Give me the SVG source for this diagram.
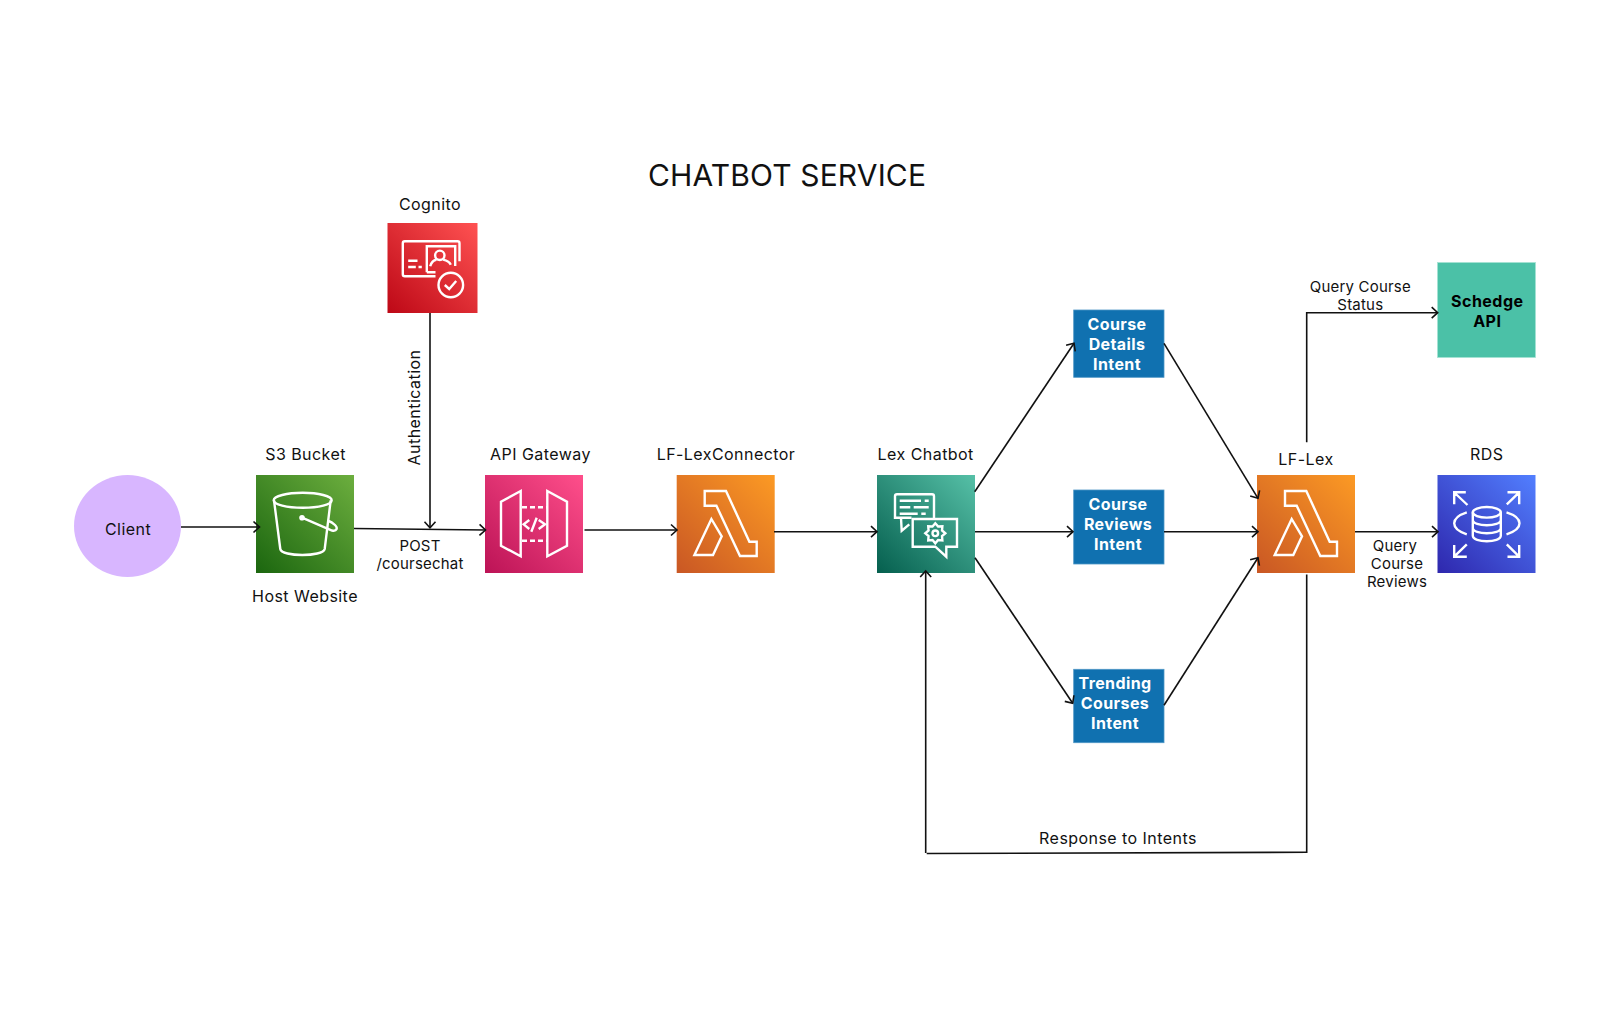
<svg xmlns="http://www.w3.org/2000/svg" width="1620" height="1033" viewBox="0 0 1620 1033">
<style>
text{font-family:Inter,"Liberation Sans",sans-serif;fill:#111;font-size:16px;letter-spacing:.45px;text-anchor:middle}
.title{font-size:30px;letter-spacing:.15px}
.e{font-size:15px;letter-spacing:.2px}
.w{fill:#fff;font-weight:700;letter-spacing:.4px}
.b{fill:#000;font-weight:700;letter-spacing:.5px}
.c{fill:none;stroke:#111;stroke-width:1.6;marker-end:url(#a)}
.p{fill:none;stroke:#111;stroke-width:1.6}
.i{fill:none;stroke:#fff;stroke-width:2.4;stroke-linejoin:miter}
.box{fill:#1071b0;stroke:#4d96c6;stroke-width:.8}
</style>
<defs>
<marker id="a" markerUnits="userSpaceOnUse" markerWidth="16" markerHeight="16" refX="10" refY="8" orient="auto" overflow="visible"><path d="M4,2.5 L10,8 L4,13.5" fill="none" stroke="#111" stroke-width="1.6"/></marker>
<linearGradient id="gs" x1="0" y1="1" x2="1" y2="0"><stop offset="0" stop-color="#1b660f"/><stop offset="1" stop-color="#6cae3e"/></linearGradient>
<linearGradient id="gp" x1="0" y1="1" x2="1" y2="0"><stop offset="0" stop-color="#bc1356"/><stop offset="1" stop-color="#ff4f8b"/></linearGradient>
<linearGradient id="gr" x1="0" y1="1" x2="1" y2="0"><stop offset="0" stop-color="#bd0816"/><stop offset="1" stop-color="#ff5252"/></linearGradient>
<linearGradient id="go" x1="0" y1="1" x2="1" y2="0"><stop offset="0" stop-color="#c95724"/><stop offset="1" stop-color="#fc9a24"/></linearGradient>
<linearGradient id="gt" x1="0" y1="1" x2="1" y2="0"><stop offset="0" stop-color="#055f4e"/><stop offset="1" stop-color="#56c0a7"/></linearGradient>
<linearGradient id="gb" x1="0" y1="1" x2="1" y2="0"><stop offset="0" stop-color="#2e27ad"/><stop offset="1" stop-color="#527fff"/></linearGradient>
<g id="lambda"><rect width="98" height="98" fill="url(#go)"/><path class="i" d="M28,16H49.3L72.7,66.7H80V81H63.3L39.7,30.7H28Z"/><path class="i" d="M34.7,44L45,61.3L36.3,80H17.7Z"/></g>
</defs>
<rect width="1620" height="1033" fill="#fff"/>
<text class="title" x="787" y="186">CHATBOT SERVICE</text>

<g id="client"><ellipse cx="127.5" cy="526" rx="53.5" ry="51" fill="#d8b6ff"/><text x="128" y="534.5">Client</text></g>

<g id="s3"><text x="305.6" y="459.5">S3 Bucket</text><text x="305" y="602">Host Website</text>
<g transform="translate(256,475)"><rect width="98" height="98" fill="url(#gs)"/>
<ellipse class="i" cx="46.7" cy="25.3" rx="29" ry="7.5"/>
<path class="i" d="M18,25.3L24.3,74C25.5,82 67,82 68.7,74L74.7,25.3"/>
<circle cx="46" cy="42.7" r="2.8" fill="#fff"/>
<path class="i" d="M46,42.7L76,55.5C81,56.5 82,53 79,50C76.5,47.5 73,46 71.5,45.5"/></g></g>

<g id="cognito"><text x="430" y="210">Cognito</text>
<g transform="translate(387.5,223)"><rect width="90" height="90" fill="url(#gr)"/>
<path class="i" d="M48,53.3H17.3Q15.3,53.3 15.3,51.3V20.3Q15.3,18.3 17.3,18.3H70Q72,18.3 72,20.3V38.3"/>
<path class="i" d="M39.3,49.3V23.3H67.7V43M39.3,49.3H48"/>
<path class="i" d="M20.7,37.7H30M20.7,44H28.3M31,44H34.3"/>
<circle class="i" cx="52.3" cy="32.3" r="4.7"/>
<path class="i" d="M42.7,43.3Q44.3,37.3 49,36.7M55.7,36.7Q61.7,38.3 63.3,41.7"/>
<circle class="i" cx="63.3" cy="62" r="12.3"/>
<path class="i" d="M57.3,62L61.7,66L68.7,58"/></g></g>

<g id="api-gateway"><text x="540.5" y="459.5">API Gateway</text>
<g transform="translate(485,475)"><rect width="98" height="98" fill="url(#gp)"/>
<path class="i" d="M35.7,16L16,26.7V70.7L35.7,81.3Z"/>
<path class="i" d="M62.3,16L82,26.7V70.7L62.3,81.3Z"/>
<path class="i" stroke-dasharray="5 3" d="M37,32.3H62M37,65.7H62"/>
<path class="i" d="M44.3,45L38.7,49.3L44.3,54M53.7,45L60,49.3L53.7,54M51.7,42.7L46.3,56.7"/></g></g>

<g id="lf-lexconnector"><text x="726" y="459.5">LF-LexConnector</text><use href="#lambda" x="676.7" y="475"/></g>

<g id="lex-chatbot"><text x="925.7" y="459.5">Lex Chatbot</text>
<g transform="translate(877,475)"><rect width="98" height="98" fill="url(#gt)"/>
<path class="i" d="M34.5,42.7H24L24.7,55.7L32.3,49.3M24,42.7H18V21.3Q18,19.3 20,19.3H55Q57,19.3 57,21.3V43"/>
<path class="i" d="M22.7,25.7H44M47.7,25.7H51.7M22.7,32.3H33.3M36.7,32.3H51.7M22.7,38.7H40.7M44.3,38.7H48.7"/>
<path class="i" d="M35.7,44H80V71.7H69.3V81.7L58.3,71.7H35.7Z"/>
<path class="i" transform="translate(58.3,58.3)" d="M10,0L6.74,2.79L7.07,7.07L2.79,6.74L0,10L-2.79,6.74L-7.07,7.07L-6.74,2.79L-10,0L-6.74,-2.79L-7.07,-7.07L-2.79,-6.74L0,-10L2.79,-6.74L7.07,-7.07L6.74,-2.79Z"/>
<circle class="i" cx="58.3" cy="58.3" r="2.8"/></g></g>

<g id="course-details"><rect class="box" x="1073.7" y="310" width="90.3" height="67.3"/><text class="w" x="1117" y="330">Course</text><text class="w" x="1117" y="350">Details</text><text class="w" x="1117" y="370">Intent</text></g>
<g id="course-reviews"><rect class="box" x="1073.7" y="490" width="90.3" height="74"/><text class="w" x="1118" y="510.3">Course</text><text class="w" x="1118" y="530.3">Reviews</text><text class="w" x="1118" y="550.3">Intent</text></g>
<g id="trending-courses"><rect class="box" x="1073.7" y="669.3" width="90.3" height="73.4"/><text class="w" x="1115" y="689">Trending</text><text class="w" x="1115" y="709">Courses</text><text class="w" x="1115" y="729">Intent</text></g>

<g id="lf-lex"><text x="1306" y="464.8">LF-Lex</text><use href="#lambda" x="1257" y="475"/></g>

<g id="rds"><text x="1486.7" y="459.5">RDS</text>
<g transform="translate(1437.5,475)"><rect width="98" height="98" fill="url(#gb)"/>
<path class="i" d="M17.3,18L30,30M16.7,29.3V17.3H28.3M81.7,17.3L69.3,29.3M70,17.3H81.7V29.3M29.3,69.3L16.7,81.7M16.7,70V81.7H29.3M69.3,69.3L81.7,81.7M81.7,70V81.7H70"/>
<ellipse class="i" cx="49.3" cy="37.3" rx="14" ry="5.3"/>
<path class="i" d="M35.3,37.3V60.7C35.3,68 63.3,68 63.3,60.7V37.3M35.3,45C35.3,52 63.3,52 63.3,45M35.3,53C35.3,60 63.3,60 63.3,53"/>
<path class="i" d="M29.3,37.3C21,40 16.7,44 16.7,48.3C16.7,53 21,56.7 29.3,59.3M69,37.3C77.5,40 82,44 82,48.3C82,53 77.5,56.7 69,59.3"/></g></g>

<g id="schedge-api"><rect x="1437.5" y="262.5" width="98" height="95" fill="#4bc1a7" stroke="#a5e3d3" stroke-width=".8"/><text class="b" x="1487.3" y="306.7">Schedge</text><text class="b" x="1487.3" y="326.7">API</text></g>

<g id="connectors">
<path class="c" d="M181,527H259.5"/>
<path class="c" d="M354,528.5L485.5,530"/>
<path class="c" d="M430,313V527.7"/>
<path class="c" d="M584.5,530H677"/>
<path class="c" d="M774,531.7H877"/>
<path class="c" d="M974.7,491.7L1074,343.3"/>
<path class="c" d="M975,531.7H1073"/>
<path class="c" d="M975,557.7L1072.7,703.3"/>
<path class="c" d="M1164,343.3L1258,498.3"/>
<path class="c" d="M1164,531.7H1258"/>
<path class="c" d="M1164,705.3L1258,557.7"/>
<path class="c" d="M1306.7,442.3V312.7H1437.7"/>
<path class="c" d="M1355,531.7H1438"/>
<path class="p" d="M1306.7,574.5V852.3L926.7,853.5"/>
<path class="c" d="M925.7,853V571"/>
<text class="e" x="420" y="550.7">POST</text>
<text class="e" x="420" y="569">/coursechat</text>
<text transform="translate(420,407.5) rotate(-90)">Authentication</text>
<text class="e" x="1360.3" y="291.7">Query Course</text>
<text class="e" x="1360.3" y="310.3">Status</text>
<text class="e" x="1395" y="550.7">Query</text>
<text class="e" x="1397" y="569">Course</text>
<text class="e" x="1397" y="587.3">Reviews</text>
<text x="1118" y="843.5">Response to Intents</text>
</g>
</svg>
